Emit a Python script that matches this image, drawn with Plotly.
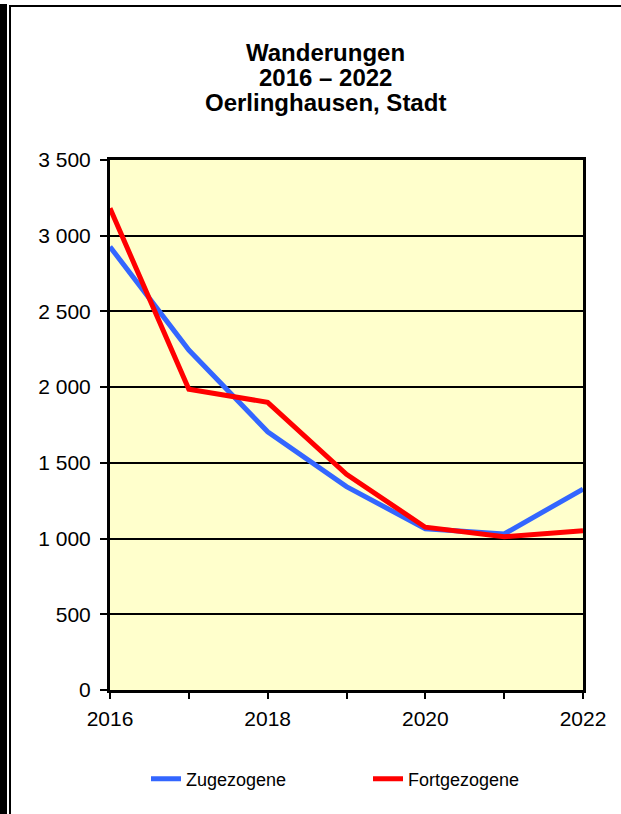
import plotly.graph_objects as go

years = [2016, 2017, 2018, 2019, 2020, 2021, 2022]
zugezogene = [2927, 2245, 1705, 1343, 1065, 1030, 1327]
fortgezogene = [3181, 1986, 1900, 1424, 1075, 1012, 1052]
title_lines = ["Wanderungen", "2016 – 2022", "Oerlinghausen, Stadt"]
x_tick_text = ["2016", "", "2018", "", "2020", "", "2022"]

W, H = 621, 814
L, R, T, B = 110, 583, 160, 690  # plot area in px

def px(x):
    return (x - L) / (R - L)

def py(y):
    return (B - y) / (B - T)

FONT = "Liberation Sans, Arial, sans-serif"

fig = go.Figure()
fig.add_trace(go.Scatter(x=years, y=zugezogene, name="Zugezogene", mode="lines",
                         line=dict(color="#3366FF", width=5)))
fig.add_trace(go.Scatter(x=years, y=fortgezogene, name="Fortgezogene", mode="lines",
                         line=dict(color="#FF0000", width=5)))

annotations = []
for txt, yc in zip(title_lines, [52.5, 77.7, 103]):
    annotations.append(dict(text="<b>" + txt + "</b>", x=px(325), y=py(yc), xref="paper", yref="paper",
                            xanchor="center", yanchor="middle", showarrow=False,
                            font=dict(family=FONT, size=24, color="black")))

shapes = [
    dict(type="rect", xref="paper", yref="paper", x0=px(0), x1=px(7), y0=py(830), y1=py(4),
         fillcolor="black", line=dict(width=0)),
    dict(type="line", xref="paper", yref="paper", x0=px(10), x1=px(10), y0=py(830), y1=py(6),
         line=dict(color="black", width=2)),
    dict(type="line", xref="paper", yref="paper", x0=px(9), x1=px(640), y0=py(6), y1=py(6),
         line=dict(color="black", width=2)),
]

fig.update_layout(
    width=W, height=H,
    margin=dict(l=L, r=W - R, t=T, b=H - B, pad=0),
    paper_bgcolor="white",
    plot_bgcolor="#FFFFCC",
    separators=", ",
    font=dict(family=FONT, color="black"),
    annotations=annotations,
    shapes=shapes,
    showlegend=True,
    legend=dict(orientation="h", x=px(146), y=py(779), xanchor="left", yanchor="middle",
                font=dict(size=18, family=FONT, color="black"), entrywidth=177,
                bgcolor="rgba(0,0,0,0)"),
    xaxis=dict(range=[2016, 2022], tickvals=years, ticktext=x_tick_text,
               showgrid=False, zeroline=False, showline=True, linecolor="black", linewidth=3,
               mirror=True, ticks="outside", ticklen=6, tickwidth=2, tickcolor="black",
               tickfont=dict(size=21, family=FONT, color="black"), ticklabelstandoff=2),
    yaxis=dict(range=[0, 3500], dtick=500, tickformat=",d",
               showgrid=True, gridcolor="black", gridwidth=2, zeroline=False,
               showline=True, linecolor="black", linewidth=3, mirror=True,
               ticks="outside", ticklen=7, tickwidth=2, tickcolor="black",
               tickfont=dict(size=21, family=FONT, color="black"), ticklabelstandoff=5),
)

fig.write_html("out.html", config={"displayModeBar": False},
               post_script="document.body.style.margin='0';document.body.style.overflow='hidden';")
